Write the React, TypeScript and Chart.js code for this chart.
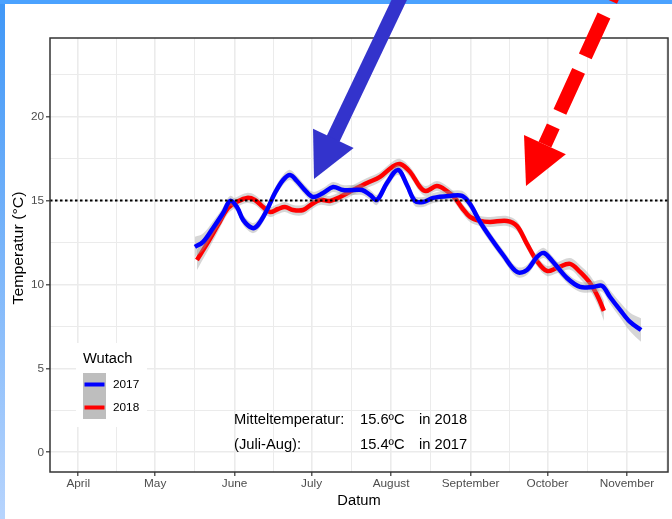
import React, { useEffect, useRef } from "react";
import { Chart, registerables } from "chart.js";

Chart.register(...registerables);

// ---------------- data ----------------
// x values are day-of-year (Jan 1 = 0)
const monthTickDays = [90, 120, 151, 181, 212, 243, 273, 304];
const monthTickLabels = ["April", "May", "June", "July", "August", "September", "October", "November"];
const monthMinorDays = [105, 135.5, 166, 196.5, 227.5, 258, 288.5, 319.5];
const tempMajorTicks = [0, 5, 10, 15, 20];
const tempMinorTicks = [2.5, 7.5, 12.5, 17.5, 22.5];
const xLimits = [79, 320];
const yLimits = [-1.175, 24.675];

const days2017 = [135.5, 138.7, 142.6, 146.5, 149.2, 151.9, 154.3, 157.8, 160.1, 163.6, 166.7, 169.9, 172.6, 175.3, 178.4, 181.6, 185.5, 189.4, 193.3, 197.2, 200.7, 203.8, 206.5, 210.4, 214.7, 218.2, 221.3, 224.5, 228.4, 235.0, 239.7, 242.8, 246.7, 250.6, 255.7, 261.1, 265.0, 268.9, 271.6, 275.2, 280.6, 285.7, 290.8, 294.3, 297.4, 301.3, 305.2, 309.5];
const temp2017 = [12.23, 12.53, 13.36, 14.25, 14.97, 14.61, 13.84, 13.36, 13.54, 14.43, 15.44, 16.22, 16.52, 16.16, 15.62, 15.21, 15.44, 15.8, 15.62, 15.62, 15.62, 15.33, 15.03, 16.04, 16.81, 15.92, 14.97, 14.91, 15.15, 15.27, 15.27, 14.79, 13.72, 12.82, 11.75, 10.74, 10.86, 11.63, 11.87, 11.33, 10.38, 9.85, 9.85, 9.91, 9.25, 8.48, 7.76, 7.28];
const band2017 = [0.6, 0.5, 0.4, 0.35, 0.3, 0.3, 0.3, 0.3, 0.3, 0.3, 0.3, 0.3, 0.3, 0.3, 0.3, 0.3, 0.3, 0.3, 0.3, 0.3, 0.3, 0.3, 0.3, 0.3, 0.3, 0.3, 0.3, 0.3, 0.3, 0.3, 0.3, 0.3, 0.3, 0.3, 0.3, 0.3, 0.3, 0.3, 0.3, 0.3, 0.3, 0.3, 0.32, 0.35, 0.4, 0.45, 0.55, 0.7];

const days2018 = [136.3, 140.2, 144.5, 148.4, 151.9, 155.8, 158.9, 162.1, 164.8, 167.9, 170.6, 173.8, 177.7, 181.2, 184.3, 188.2, 192.1, 197.2, 202.6, 207.7, 212.4, 215.5, 219.4, 223.3, 225.6, 229.9, 233.8, 236.9, 239.7, 242.8, 246.7, 250.6, 257.2, 261.1, 265.0, 268.9, 272.8, 276.7, 281.8, 285.7, 289.6, 292.7, 295.0];
const temp2018 = [11.45, 12.41, 13.54, 14.55, 14.91, 15.15, 15.03, 14.61, 14.31, 14.49, 14.61, 14.43, 14.43, 14.79, 15.03, 14.97, 15.21, 15.62, 16.04, 16.4, 16.99, 17.17, 16.7, 15.8, 15.56, 15.86, 15.56, 15.15, 14.55, 14.02, 13.78, 13.72, 13.78, 13.48, 12.41, 11.39, 10.8, 10.98, 11.22, 10.74, 10.08, 9.25, 8.42];
const band2018 = [0.6, 0.5, 0.4, 0.35, 0.3, 0.3, 0.3, 0.3, 0.3, 0.3, 0.3, 0.3, 0.3, 0.3, 0.3, 0.3, 0.3, 0.3, 0.3, 0.3, 0.3, 0.3, 0.3, 0.3, 0.3, 0.3, 0.3, 0.3, 0.3, 0.3, 0.3, 0.3, 0.3, 0.3, 0.3, 0.3, 0.3, 0.32, 0.35, 0.4, 0.45, 0.5, 0.6];

const thresholdTemp = 15;
const seriesNames = ["2017", "2018"];
const legendTitle = "Wutach";
const xTitle = "Datum";
const yTitle = "Temperatur (°C)";
const annotationRows = [
  ["Mitteltemperatur:", "15.6ºC", "in 2018"],
  ["(Juli-Aug):", "15.4ºC", "in 2017"],
];
const annotationColumnDays = [150.8, 199.9, 222.9];
const annotationRowTemps = [2.0, 0.5];
const blueArrow = { from: [216.3, 27.3], to: [181.95, 16.28] };
const redArrow = { from: [299.6, 27.54], to: [264.63, 15.86] };

// ---------------- styling ----------------
const FONT = "'Liberation Sans', Arial, Helvetica, sans-serif";
const BLUE = "#0000ff";
const RED = "#ff0000";
const RIBBON = "rgba(153,153,153,0.4)";

const pts = (xs: number[], ys: number[]) => xs.map((x, i) => ({ x, y: ys[i] }));

function drawArrow(
  ctx: CanvasRenderingContext2D,
  tail: { x: number; y: number },
  tip: { x: number; y: number },
  shaftW: number,
  headW: number,
  headL: number,
  color: string,
  dash?: { pattern: number[]; offset: number }
) {
  const dx = tip.x - tail.x;
  const dy = tip.y - tail.y;
  const len = Math.hypot(dx, dy);
  const ux = dx / len;
  const uy = dy / len;
  const px = -uy;
  const py = ux;
  const bx = tip.x - ux * headL;
  const by = tip.y - uy * headL;
  ctx.save();
  ctx.strokeStyle = color;
  ctx.lineWidth = shaftW;
  ctx.lineCap = "butt";
  if (dash) {
    ctx.setLineDash(dash.pattern);
    ctx.lineDashOffset = dash.offset;
    ctx.beginPath();
    ctx.moveTo(bx, by);
  } else {
    ctx.beginPath();
    ctx.moveTo(bx + ux * 2, by + uy * 2);
  }
  ctx.lineTo(tail.x, tail.y);
  ctx.stroke();
  ctx.setLineDash([]);
  ctx.fillStyle = color;
  ctx.beginPath();
  ctx.moveTo(tip.x, tip.y);
  ctx.lineTo(bx + (px * headW) / 2, by + (py * headW) / 2);
  ctx.lineTo(bx - (px * headW) / 2, by - (py * headW) / 2);
  ctx.closePath();
  ctx.fill();
  ctx.restore();
}

const decorPlugin = {
  id: "decor",
  afterDraw(chart: any) {
    const ctx: CanvasRenderingContext2D = chart.ctx;
    const { left, top, right, bottom } = chart.chartArea;
    const xs = chart.scales.x;
    const ys = chart.scales.y;
    ctx.save();

    // panel border
    ctx.strokeStyle = "#333333";
    ctx.lineWidth = 1.5;
    ctx.strokeRect(left, top, right - left, bottom - top);

    // legend
    const lx = left + 26;
    const ly = top + 305;
    ctx.fillStyle = "#ffffff";
    ctx.fillRect(lx, ly, 71, 84);
    ctx.fillStyle = "#000000";
    ctx.font = `14.7px ${FONT}`;
    ctx.textAlign = "left";
    ctx.textBaseline = "alphabetic";
    ctx.fillText(legendTitle, lx + 7, ly + 20);
    ctx.fillStyle = "#bebebe";
    ctx.fillRect(lx + 7, ly + 30, 23, 46);
    const keyColors = [BLUE, RED];
    ctx.font = `11.8px ${FONT}`;
    keyColors.forEach((c, i) => {
      const cy = ly + 41.5 + i * 23;
      ctx.strokeStyle = c;
      ctx.lineWidth = 4;
      ctx.lineCap = "butt";
      ctx.beginPath();
      ctx.moveTo(lx + 8.5, cy);
      ctx.lineTo(lx + 28.5, cy);
      ctx.stroke();
      ctx.fillStyle = "#000000";
      ctx.textBaseline = "middle";
      ctx.fillText(seriesNames[i], lx + 37, cy + 0.5);
    });

    // annotation text
    ctx.fillStyle = "#000000";
    ctx.font = `14.7px ${FONT}`;
    ctx.textAlign = "left";
    ctx.textBaseline = "alphabetic";
    annotationRows.forEach((row, r) => {
      const y = ys.getPixelForValue(annotationRowTemps[r]) + 5.3;
      row.forEach((txt, c) => {
        ctx.fillText(txt, xs.getPixelForValue(annotationColumnDays[c]), y);
      });
    });

    // axis titles
    ctx.font = `14.7px ${FONT}`;
    ctx.textAlign = "center";
    ctx.textBaseline = "alphabetic";
    ctx.fillText(xTitle, (left + right) / 2, 504.5);
    ctx.save();
    ctx.translate(22.5, (top + bottom) / 2 - 7);
    ctx.rotate(-Math.PI / 2);
    ctx.scale(1.08, 1);
    ctx.fillText(yTitle, 0, 0);
    ctx.restore();

    // arrows
    const P = (p: number[]) => ({ x: xs.getPixelForValue(p[0]), y: ys.getPixelForValue(p[1]) });
    drawArrow(ctx, P(blueArrow.from), P(blueArrow.to), 14, 45, 45, "#3333cc");
    drawArrow(ctx, P(redArrow.from), P(redArrow.to), 14, 46, 45.5, "#ff0000", { pattern: [45, 16], offset: 25 });

    ctx.restore();
  },
};

export default function App() {
  const canvasRef = useRef<HTMLCanvasElement | null>(null);

  useEffect(() => {
    if (!canvasRef.current) return;
    const up2017 = temp2017.map((t, i) => t + band2017[i]);
    const lo2017 = temp2017.map((t, i) => t - band2017[i]);
    const up2018 = temp2018.map((t, i) => t + band2018[i]);
    const lo2018 = temp2018.map((t, i) => t - band2018[i]);
    const tension = 0.35;
    const ribbonBase = {
      pointRadius: 0,
      borderWidth: 1,
      borderColor: "rgba(0,0,0,0)",
      backgroundColor: RIBBON,
      tension,
    };
    const isMajorX = (v: number) => monthTickDays.indexOf(v) >= 0;
    const isMajorY = (v: number) => tempMajorTicks.indexOf(v) >= 0;

    const chart = new Chart(canvasRef.current, {
      type: "line",
      data: {
        datasets: [
          { ...ribbonBase, data: pts(days2018, up2018), fill: "+1", order: 5 },
          { ...ribbonBase, data: pts(days2018, lo2018), fill: false, order: 5 },
          {
            label: seriesNames[1],
            data: pts(days2018, temp2018),
            borderColor: RED,
            borderWidth: 4.5,
            pointRadius: 0,
            fill: false,
            tension,
            order: 4,
          },
          { ...ribbonBase, data: pts(days2017, up2017), fill: "+1", order: 3 },
          { ...ribbonBase, data: pts(days2017, lo2017), fill: false, order: 3 },
          {
            label: seriesNames[0],
            data: pts(days2017, temp2017),
            borderColor: BLUE,
            borderWidth: 4.5,
            pointRadius: 0,
            fill: false,
            tension,
            order: 2,
          },
          {
            data: pts([xLimits[0], xLimits[1]], [thresholdTemp, thresholdTemp]),
            borderColor: "#000000",
            borderWidth: 2,
            borderDash: [2.5, 2.5],
            pointRadius: 0,
            fill: false,
            order: 1,
          },
        ],
      },
      options: {
        responsive: false,
        animation: false,
        devicePixelRatio: 1,
        layout: { padding: { top: 38, right: 4, bottom: 0, left: 0 } },
        plugins: {
          legend: { display: false },
          tooltip: { enabled: false },
        },
        scales: {
          x: {
            type: "linear",
            min: xLimits[0],
            max: xLimits[1],
            afterBuildTicks: (s: any) => {
              s.ticks = [...monthTickDays, ...monthMinorDays]
                .sort((a, b) => a - b)
                .map((v) => ({ value: v }));
            },
            afterFit: (s: any) => {
              s.height = 47;
            },
            ticks: {
              autoSkip: false,
              maxRotation: 0,
              minRotation: 0,
              padding: 1,
              color: "#4d4d4d",
              font: { family: FONT, size: 11.8 },
              callback: (v: any) => {
                const i = monthTickDays.indexOf(Number(v));
                return i >= 0 ? monthTickLabels[i] : "";
              },
            },
            grid: {
              color: "#ebebeb",
              lineWidth: (c: any) => (c.tick && isMajorX(c.tick.value) ? 1.6 : 1),
              tickLength: 4,
              tickWidth: 1.2,
              tickColor: (c: any) => (c.tick && isMajorX(c.tick.value) ? "#333333" : "rgba(0,0,0,0)"),
            },
            border: { display: false },
          },
          y: {
            type: "linear",
            min: yLimits[0],
            max: yLimits[1],
            afterBuildTicks: (s: any) => {
              s.ticks = [...tempMajorTicks, ...tempMinorTicks]
                .sort((a, b) => a - b)
                .map((v) => ({ value: v }));
            },
            afterFit: (s: any) => {
              s.width = 50;
            },
            ticks: {
              autoSkip: false,
              padding: 2,
              color: "#4d4d4d",
              font: { family: FONT, size: 11.8 },
              callback: (v: any) => (isMajorY(Number(v)) ? String(v) : ""),
            },
            grid: {
              color: "#ebebeb",
              lineWidth: (c: any) => (c.tick && isMajorY(c.tick.value) ? 1.6 : 1),
              tickLength: 4,
              tickWidth: 1.2,
              tickColor: (c: any) => (c.tick && isMajorY(c.tick.value) ? "#333333" : "rgba(0,0,0,0)"),
            },
            border: { display: false },
          },
        },
      },
      plugins: [decorPlugin],
    } as any);

    return () => {
      chart.destroy();
    };
  }, []);

  return (
    <div
      style={{
        position: "fixed",
        left: 0,
        top: 0,
        width: 672,
        height: 519,
        overflow: "hidden",
        background: "#ffffff",
      }}
    >
      <div
        style={{
          position: "absolute",
          left: 0,
          top: 0,
          width: 5,
          height: 519,
          background: "linear-gradient(to bottom, #3f97f7, #b7d4fd)",
        }}
      />
      <div
        style={{
          position: "absolute",
          left: 0,
          top: 0,
          width: 672,
          height: 4,
          background: "#4ba2ff",
        }}
      />
      <canvas
        ref={canvasRef}
        width={672}
        height={519}
        style={{ position: "absolute", left: 0, top: 0, width: 672, height: 519 }}
      />
    </div>
  );
}
